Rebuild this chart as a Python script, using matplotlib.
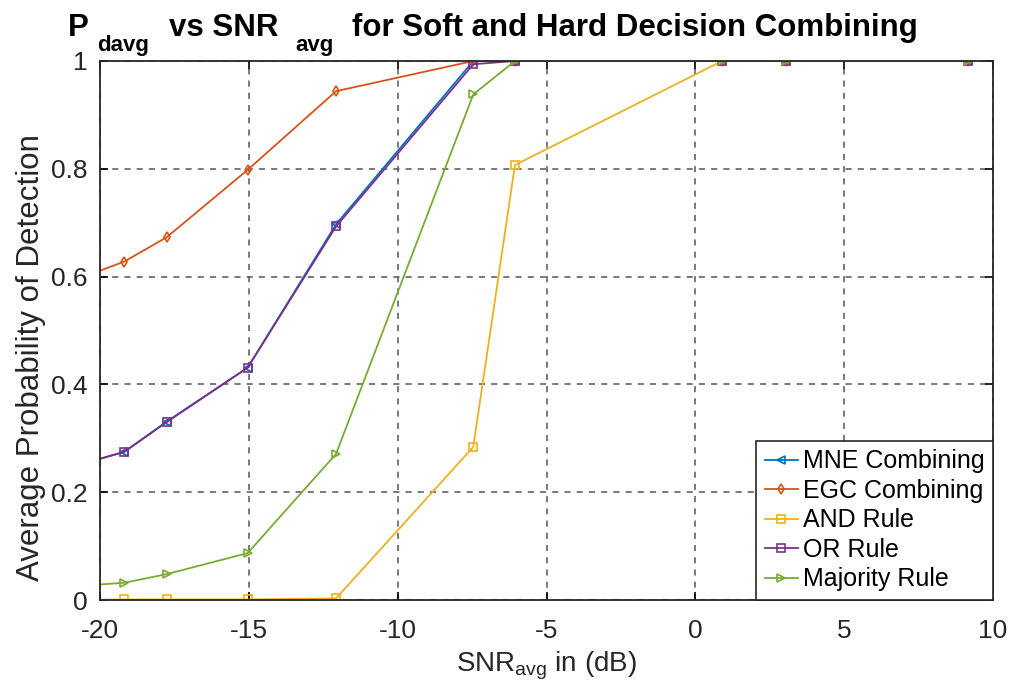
import numpy as np
import matplotlib.pyplot as plt

plt.rcParams['font.family'] = ['Liberation Sans', 'DejaVu Sans']
plt.rcParams['mathtext.fontset'] = 'custom'
plt.rcParams['mathtext.rm'] = 'Liberation Sans'
plt.rcParams['mathtext.bf'] = 'Liberation Sans:bold'
plt.rcParams['axes.unicode_minus'] = False

# average SNR points (dB); first one sits just left of the axis limit
snr = [-21.0, -19.18, -17.76, -15.04, -12.07, -7.46, -6.06, 0.9, 3.04, 9.17]

mne = [0.246, 0.275, 0.331, 0.431, 0.697, 1.0, 1.0, 1.0, 1.0, 1.0]
egc = [0.590, 0.628, 0.673, 0.798, 0.944, 1.0, 1.0, 1.0, 1.0, 1.0]
and_rule = [0.0, 0.001, 0.001, 0.001, 0.003, 0.284, 0.807, 1.0, 1.0, 1.0]
or_rule = [0.246, 0.275, 0.330, 0.431, 0.693, 0.994, 1.0, 1.0, 1.0, 1.0]
majority = [0.025, 0.032, 0.048, 0.087, 0.271, 0.938, 1.0, 1.0, 1.0, 1.0]

colors = ['#0072BD', '#D95319', '#EDB120', '#7E2F8E', '#77AC30']

W, H = 1013, 694
fig = plt.figure(figsize=(W / 100, H / 100), dpi=100)
ax = fig.add_axes([100 / W, 1 - 600 / H, 893 / W, 539 / H])

kw = dict(lw=1.3, ms=5.5, mfc='none', mew=1.2)
ax.plot(snr, mne, '-<', color=colors[0], label='MNE Combining', **kw)
ax.plot(snr, egc, '-d', color=colors[1], label='EGC Combining', **kw)
ax.plot(snr, and_rule, '-s', color=colors[2], label='AND Rule', **kw)
ax.plot(snr, or_rule, '-s', color=colors[3], label='OR Rule', **kw)
ax.plot(snr, majority, '->', color=colors[4], label='Majority Rule', **kw)

ax.set_xlim(-20, 10)
ax.set_ylim(0, 1)
ax.set_xticks(np.arange(-20, 11, 5))
ax.set_yticks([0, 0.2, 0.4, 0.6, 0.8, 1])
ax.set_yticklabels(['0', '0.2', '0.4', '0.6', '0.8', '1'])

ax.grid(True, ls=(0, (4, 4)), color='#555555', lw=1.1)
ax.tick_params(direction='in', top=True, right=True, length=6, width=1.2,
               labelsize=19, labelcolor='#262626')
ax.tick_params(axis='x', pad=14)
ax.tick_params(axis='y', pad=9)
for s in ax.spines.values():
    s.set_linewidth(1.3)
    s.set_color('#262626')

ax.set_xlabel(r'SNR$_{\mathrm{avg}}$ in (dB)', fontsize=20, color='#262626',
              labelpad=4)
ax.set_ylabel('Average Probability of Detection', fontsize=22.5, color='#262626')
ax.yaxis.set_label_coords(-0.061, 0.45)

# title built piece by piece so the subscripts sit low like the original style
renderer = fig.canvas.get_renderer()
pieces = [('P', 22.5, 0, 8), ('davg', 16, -15, 20), ('vs SNR', 22.5, 0, 17),
          ('avg', 16, -15, 18), ('for Soft and Hard Decision Combining', 22.5, 0, 0)]
x_px, base_px = 68, H - 36
for txt, size, dy, gap in pieces:
    t = fig.text(x_px / W, (base_px + dy) / H, txt, fontsize=size,
                 fontweight='bold', ha='left', va='baseline')
    x_px = t.get_window_extent(renderer).x1 + gap

leg = ax.legend(loc='lower right', fontsize=18, borderaxespad=0,
                handlelength=1.3, handletextpad=0.2, labelspacing=0.22,
                borderpad=0.35, fancybox=False, framealpha=1)
leg.get_frame().set_edgecolor('#262626')
leg.get_frame().set_linewidth(1.2)

fig.savefig('out.png', dpi=100)
